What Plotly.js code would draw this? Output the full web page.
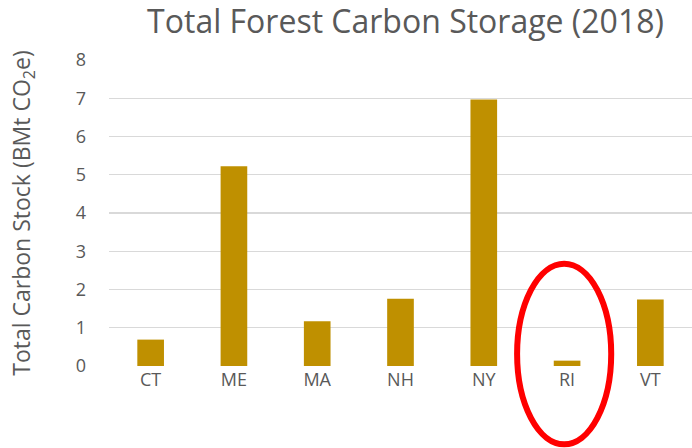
<!DOCTYPE html>
<html><head><meta charset="utf-8">
<script src="https://cdn.plot.ly/plotly-3.0.1.min.js"></script>
<style>html,body{margin:0;padding:0;background:#fff}#chart{width:692px;height:448px}</style>
</head><body><div id="chart"></div>
<script>
const states = ["CT","ME","MA","NH","NY","RI","VT"];
const carbonStock = [0.69, 5.22, 1.17, 1.76, 6.97, 0.14, 1.74];
const yTicks = [0,1,2,3,4,5,6,7,8];

const gray = "#595959";
const trace = {
  type: "bar",
  x: states,
  y: carbonStock,
  marker: {color: "#BF9000"},
  hoverinfo: "x+y"
};
const layout = {
  width: 692, height: 448,
  margin: {l: 109, r: 0, t: 60, b: 81.5, autoexpand: false},
  paper_bgcolor: "#fff", plot_bgcolor: "#fff",
  bargap: 0.68,
  showlegend: false,
  font: {family: "Open Sans, Liberation Sans, sans-serif", color: gray},
  title: {text: "Total Forest Carbon Storage (2018)", font: {size: 32, color: gray},
          x: 0.586, xanchor: "center", y: 0.951, yanchor: "middle"},
  xaxis: {type: "category", showgrid: false, zeroline: false, showline: false,
          ticks: "", tickfont: {size: 18, color: gray}, ticklabelstandoff: 1},
  yaxis: {range: [0, 8], tickvals: yTicks, showgrid: true, gridcolor: "#D9D9D9", gridwidth: 1.3,
          zeroline: false, showline: false, ticks: "", tickfont: {size: 18, color: gray},
          ticklabelstandoff: 22,
          title: {text: "Total Carbon Stock (BMt CO<sub>2</sub>e)", font: {size: 23, color: gray}, standoff: 38}},
  shapes: [{type: "circle", xref: "x", yref: "paper", x0: 4.4, x1: 5.53, y0: -0.256, y1: 0.334,
            line: {color: "#FF0000", width: 6}, layer: "above"}]
};
Plotly.newPlot("chart", [trace], layout, {displayModeBar: false, staticPlot: true});
</script></body></html>
